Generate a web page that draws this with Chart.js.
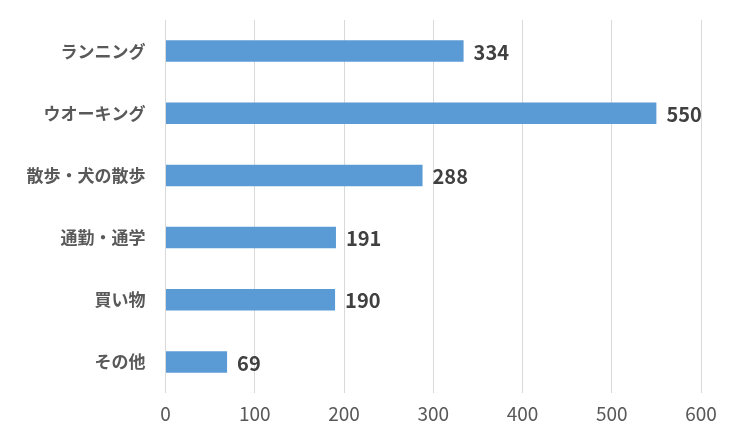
<!DOCTYPE html>
<html>
<head>
<meta charset="utf-8">
<script src="https://cdn.jsdelivr.net/npm/chart.js@4"></script>
<style>
  html, body { margin: 0; padding: 0; background: #fff; }
  #wrap { width: 740px; height: 443px; }
</style>
</head>
<body>
<div id="wrap"><canvas id="chart" width="740" height="443"></canvas></div>
<script>
const categories = ["ランニング", "ウオーキング", "散歩・犬の散歩", "通勤・通学", "買い物", "その他"];
const counts     = [334, 550, 288, 191, 190, 69];
const xTicks     = [0, 100, 200, 300, 400, 500, 600];

const JP_FONT = "'Noto Sans CJK JP', 'Noto Sans', sans-serif";

// ── Value labels at bar ends ──
const valueLabels = {
  id: "valueLabels",
  afterDatasetsDraw(chart) {
    const ctx  = chart.ctx;
    const meta = chart.getDatasetMeta(0);
    ctx.save();
    ctx.font = "bold 20px " + JP_FONT;
    ctx.fillStyle = "#404040";
    ctx.textAlign = "left";
    ctx.textBaseline = "middle";
    meta.data.forEach((bar, i) => {
      ctx.fillText(String(counts[i]), bar.x + 10, bar.y + 1);
    });
    ctx.restore();
  }
};

new Chart(document.getElementById("chart").getContext("2d"), {
  type: "bar",
  data: {
    labels: categories,
    datasets: [{
      data: counts,
      backgroundColor: "#5b9bd5",
      borderWidth: 0,
      categoryPercentage: 1,
      barPercentage: 0.345,
    }],
  },
  options: {
    indexAxis: "y",
    responsive: false,
    animation: false,
    layout: { padding: { top: 20, right: 39, left: 0, bottom: 0 } },
    plugins: { legend: { display: false }, tooltip: { enabled: false } },
    scales: {
      x: {
        min: 0, max: 600,
        afterBuildTicks: axis => { axis.ticks = xTicks.map(v => ({ value: v })); },
        afterFit: axis => { axis.height = 50; axis.paddingLeft = 0; axis.paddingRight = 0; },
        grid: { color: "#d9d9d9", lineWidth: 1, drawTicks: false },
        border: { display: false },
        ticks: { color: "#595959", font: { family: JP_FONT, size: 19 }, padding: 9 },
      },
      y: {
        afterFit: axis => { axis.width = 165.5; axis.paddingTop = 0; axis.paddingBottom = 0; },
        grid: { display: false, drawTicks: false },
        border: { display: false },
        ticks: { color: "#595959", font: { family: JP_FONT, size: 17, weight: "bold" }, padding: 20 },
      },
    },
  },
  plugins: [valueLabels],
});
</script>
</body>
</html>
